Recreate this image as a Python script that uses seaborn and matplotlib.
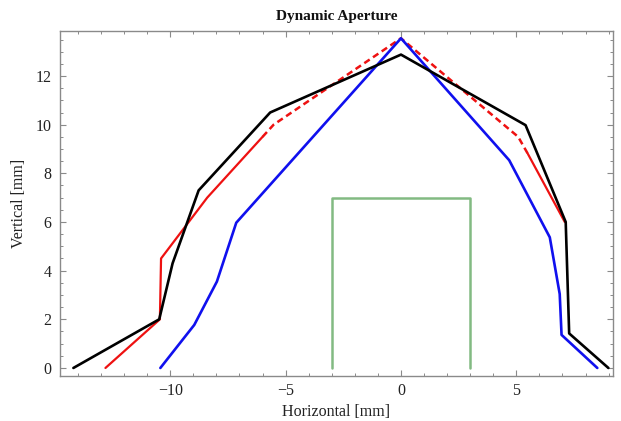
import matplotlib
matplotlib.use("Agg")
import matplotlib.pyplot as plt
from matplotlib.ticker import MultipleLocator
import seaborn as sns
import numpy as np

# ---- data ----
black_x = [-14.2, -10.48, -9.9, -8.77, -5.67, 0.0, 5.4, 7.14, 7.29, 8.99]
black_y = [0.0, 2.0, 4.3, 7.3, 10.5, 12.88, 9.98, 6.0, 1.42, 0.0]

blue_x = [-10.43, -8.96, -7.98, -7.14, 0.0, 4.69, 6.45, 6.88, 6.96, 8.51]
blue_y = [0.0, 1.77, 3.55, 5.97, 13.55, 8.54, 5.37, 3.04, 1.36, 0.0]

red_left_x = [-12.81, -10.45, -10.4, -8.4, -6.0]
red_left_y = [0.0, 2.0, 4.5, 7.0, 9.5]

red_dash_x = [-6.0, -5.52, 0.0, 5.08, 5.5]
red_dash_y = [9.5, 10.0, 13.55, 9.5, 8.8]

red_right_x = [5.5, 7.1]
red_right_y = [8.8, 6.0]

green_x = [-3.0, -3.0, 3.0, 3.0]
green_y = [0.0, 7.0, 7.0, 0.0]

x_major = [-10, -5, 0, 5]
y_major = [0, 2, 4, 6, 8, 10, 12]

# ---- style ----
sns.set_theme(style="white")
plt.rcParams['font.family'] = ['Liberation Serif', 'DejaVu Serif']

fig = plt.figure(figsize=(6.21, 4.21), dpi=100)
ax = fig.add_axes([60/621, 1-376/421, (613-60)/621, (376-31)/421])

common = dict(ax=ax, sort=False, estimator=None)
sns.lineplot(x=green_x, y=green_y, color="#82ba82", linewidth=1.8, **common)
sns.lineplot(x=red_left_x, y=red_left_y, color="#ee1111", linewidth=1.6, **common)
sns.lineplot(x=red_right_x, y=red_right_y, color="#ee1111", linewidth=1.6, **common)
l = sns.lineplot(x=red_dash_x, y=red_dash_y, color="#ee1111", linewidth=1.8, **common)
l.lines[-1].set_dashes((2.6, 1.6))
sns.lineplot(x=blue_x, y=blue_y, color="#1010ee", linewidth=1.9, **common)
sns.lineplot(x=black_x, y=black_y, color="black", linewidth=1.9, **common)

ax.set_xlim(-14.78, 9.19)
ax.set_ylim(-0.33, 13.85)
ax.set_xticks(x_major)
ax.set_xticklabels(["\u221210", "\u22125", "0", "5"])
ax.set_yticks(y_major)
ax.xaxis.set_minor_locator(MultipleLocator(1))
ax.yaxis.set_minor_locator(MultipleLocator(0.5))

for s in ax.spines.values():
    s.set_color("#8a8a8a")
    s.set_linewidth(1.0)
ax.tick_params(which="both", direction="in", colors="#8a8a8a",
               top=True, right=True, bottom=True, left=True,
               labelcolor="#222222", labelsize=11.5)
ax.tick_params(which="major", length=4, width=0.8)
ax.tick_params(which="minor", length=2.2, width=0.7)
ax.tick_params(axis="x", pad=5)
ax.tick_params(axis="y", pad=6)

ax.set_xlabel("Horizontal [mm]", fontsize=11.5, color="#222222", labelpad=4)
ax.set_ylabel("Vertical [mm]", fontsize=11.5, color="#222222", labelpad=6)
ax.set_title("Dynamic Aperture", fontsize=11, fontweight="bold", color="#111111", pad=8)

fig.savefig("out.png", dpi=100)
